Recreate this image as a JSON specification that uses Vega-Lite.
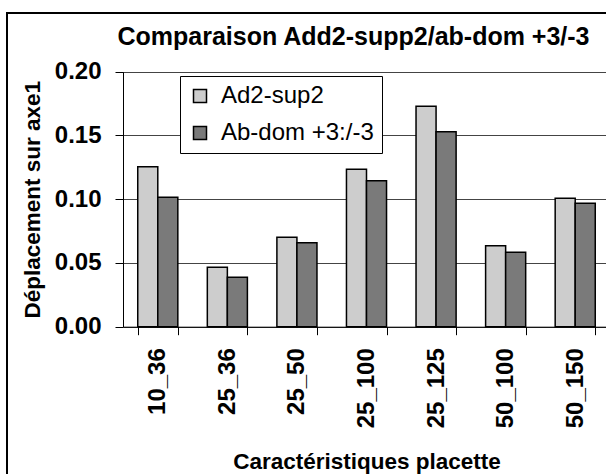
{
  "$schema": "https://vega.github.io/schema/vega-lite/v6.json",
  "width": 599,
  "height": 461,
  "autosize": {"type": "none"},
  "padding": {"left": 7, "top": 13, "right": 0, "bottom": 0},
  "background": "white",
  "title": {
    "text": "Comparaison Add2-supp2/ab-dom +3/-3",
    "font": "Liberation Sans",
    "fontSize": 25,
    "fontWeight": "bold",
    "color": "black",
    "anchor": "middle",
    "frame": "group",
    "baseline": "alphabetic",
    "offset": 0,
    "dx": 47,
    "dy": 57
  },
  "data": {
    "values": [
      {"cat": "10_36", "series": "Ad2-sup2", "value": 0.1255},
      {"cat": "10_36", "series": "Ab-dom +3:/-3", "value": 0.1015},
      {"cat": "25_36", "series": "Ad2-sup2", "value": 0.0466},
      {"cat": "25_36", "series": "Ab-dom +3:/-3", "value": 0.0387},
      {"cat": "25_50", "series": "Ad2-sup2", "value": 0.0701},
      {"cat": "25_50", "series": "Ab-dom +3:/-3", "value": 0.0659},
      {"cat": "25_100", "series": "Ad2-sup2", "value": 0.1234},
      {"cat": "25_100", "series": "Ab-dom +3:/-3", "value": 0.1145},
      {"cat": "25_125", "series": "Ad2-sup2", "value": 0.1730},
      {"cat": "25_125", "series": "Ab-dom +3:/-3", "value": 0.1530},
      {"cat": "50_100", "series": "Ad2-sup2", "value": 0.0635},
      {"cat": "50_100", "series": "Ab-dom +3:/-3", "value": 0.0583},
      {"cat": "50_150", "series": "Ad2-sup2", "value": 0.1007},
      {"cat": "50_150", "series": "Ab-dom +3:/-3", "value": 0.0968}
    ]
  },
  "mark": {"type": "bar", "stroke": "black", "strokeWidth": 1.5},
  "encoding": {
    "x": {
      "field": "cat",
      "type": "nominal",
      "sort": ["10_36", "25_36", "25_50", "25_100", "25_125", "50_100", "50_150"],
      "scale": {"range": [116, 603], "paddingInner": 0.424, "paddingOuter": 0.212},
      "axis": {
        "title": "Caractéristiques placette",
        "offset": -147.3,
        "labelAngle": -90,
        "labelPadding": 13,
        "tickSize": 8,
        "tickBand": "extent",
        "titlePadding": 23
      }
    },
    "xOffset": {"field": "series", "sort": ["Ad2-sup2", "Ab-dom +3:/-3"]},
    "y": {
      "field": "value",
      "type": "quantitative",
      "scale": {"domain": [0, 0.2], "range": [313.7, 58.7], "nice": false},
      "axis": {
        "title": "Déplacement sur axe1",
        "values": [0, 0.05, 0.1, 0.15, 0.2],
        "format": ".2f",
        "offset": -116,
        "labelPadding": 14,
        "tickSize": 8,
        "grid": true,
        "titlePadding": 10
      }
    },
    "fill": {
      "field": "series",
      "type": "nominal",
      "sort": ["Ad2-sup2", "Ab-dom +3:/-3"],
      "scale": {"domain": ["Ad2-sup2", "Ab-dom +3:/-3"], "range": ["#cdcdcd", "#7a7a7a"]},
      "legend": {
        "title": null,
        "orient": "none",
        "legendX": 173,
        "legendY": 63,
        "strokeColor": "black",
        "fillColor": "white",
        "padding": 8,
        "rowPadding": 13,
        "labelFontSize": 24,
        "labelFont": "Liberation Sans",
        "labelFontWeight": "normal",
        "labelColor": "black",
        "labelOffset": 9,
        "labelLimit": 400,
        "symbolType": "square",
        "symbolSize": 169,
        "symbolStrokeColor": "black",
        "symbolStrokeWidth": 1.5,
        "symbolOpacity": 1
      }
    }
  },
  "config": {
    "font": "Liberation Sans",
    "view": {"stroke": "black", "strokeWidth": 2, "strokeDash": [599, 1060, 470, 10], "fill": "white"},
    "axis": {
      "domainColor": "black",
      "domainWidth": 1,
      "tickColor": "black",
      "tickWidth": 1,
      "labelFont": "Liberation Sans",
      "labelFontSize": 24,
      "labelFontWeight": "bold",
      "labelColor": "black",
      "titleFont": "Liberation Sans",
      "titleFontSize": 22.5,
      "titleFontWeight": "bold",
      "titleColor": "black",
      "gridColor": "#444444",
      "gridWidth": 1,
      "labelOverlap": false
    },
    "axisX": {"grid": false}
  }
}
